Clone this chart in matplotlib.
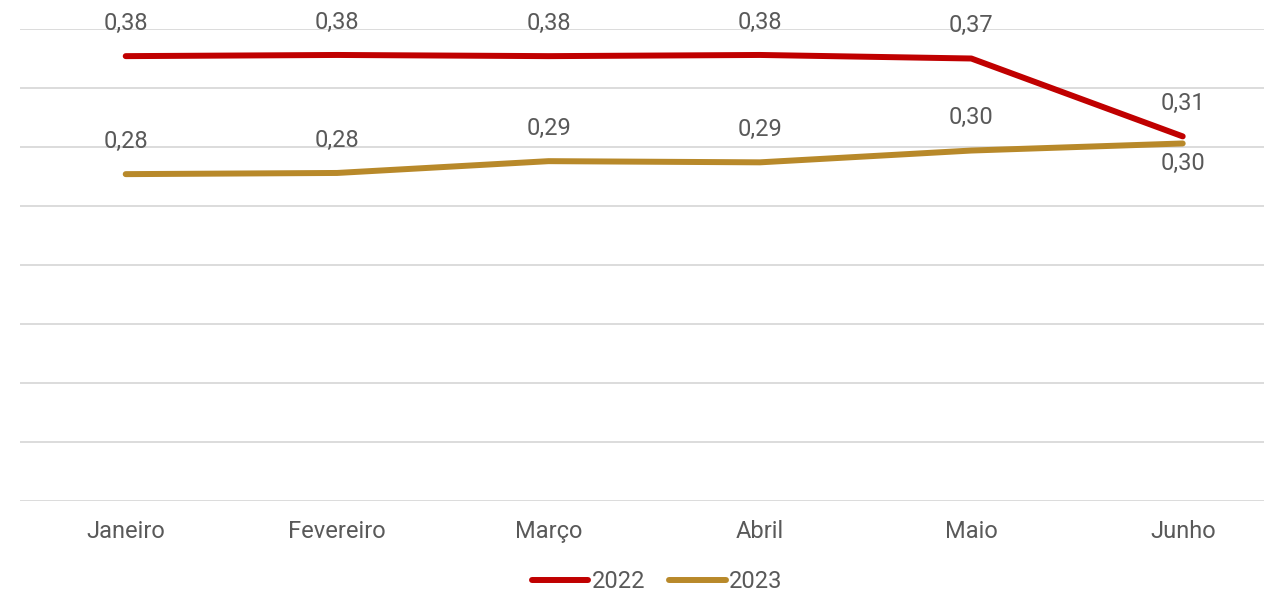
import matplotlib.pyplot as plt

plt.rcParams['font.family'] = ['Roboto', 'DejaVu Sans']

meses = ['Janeiro', 'Fevereiro', 'Março', 'Abril', 'Maio', 'Junho']
v2022 = [0.377, 0.378, 0.377, 0.378, 0.375, 0.309]
v2023 = [0.277, 0.278, 0.288, 0.287, 0.297, 0.303]
rot2022 = ['0,38', '0,38', '0,38', '0,38', '0,37', '0,31']
rot2023 = ['0,28', '0,28', '0,29', '0,29', '0,30', '0,30']

cor_txt = '#595959'
fs = 17
fig = plt.figure(figsize=(12.64, 5.95), dpi=100)
ax = fig.add_axes([20 / 1264, 94 / 595, 1244 / 1264, 472 / 595])

x = list(range(len(meses)))
ax.plot(x, v2022, color='#C00000', lw=4.3, solid_capstyle='round', label='2022', zorder=3)
ax.plot(x, v2023, color='#B8892A', lw=4.3, solid_capstyle='round', label='2023', zorder=3)

for i in x:
    ax.annotate(rot2022[i], (i, v2022[i]), xytext=(0, 23.5), textcoords='offset points',
                ha='center', va='center', fontsize=fs, color=cor_txt)
    dy = -14.5 if i == len(meses) - 1 else 23.5
    ax.annotate(rot2023[i], (i, v2023[i]), xytext=(0, dy), textcoords='offset points',
                ha='center', va='center', fontsize=fs, color=cor_txt)

ax.set_ylim(0, 0.40)
ax.set_xlim(-0.5, -0.5 + 1244 / 211.4)
ax.set_yticks([i * 0.05 for i in range(9)])
ax.yaxis.grid(True, color='#D9D9D9', lw=1.3)
ax.set_axisbelow(True)
ax.tick_params(axis='y', left=False, labelleft=False)
ax.set_xticks(x)
ax.set_xticklabels(meses, fontsize=fs, color=cor_txt)
ax.tick_params(axis='x', length=0, pad=14)
for s in ax.spines.values():
    s.set_visible(False)

fig.legend(loc='center', bbox_to_anchor=(657 / 1264, 13 / 595), ncol=2, frameon=False,
           fontsize=fs, labelcolor=cor_txt, handlelength=2.4, handletextpad=0.15,
           columnspacing=1.0)

fig.savefig('out.png', dpi=100)
